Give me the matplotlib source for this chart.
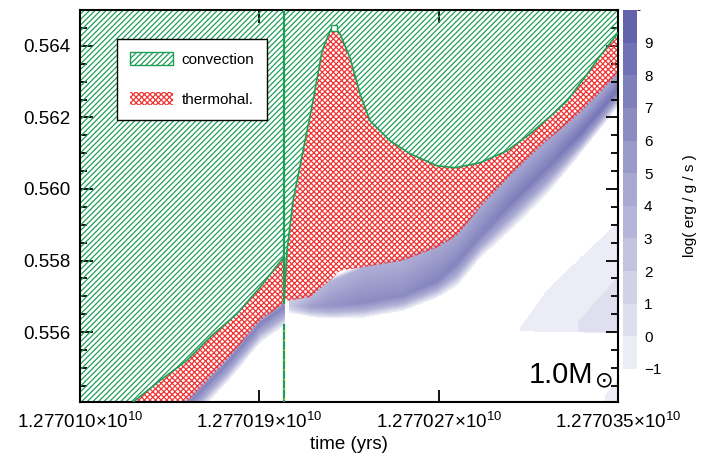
import numpy as np
import matplotlib.pyplot as plt
from matplotlib.colors import ListedColormap, BoundaryNorm, LinearSegmentedColormap, Normalize
from matplotlib.cm import ScalarMappable
from matplotlib.patches import Patch

plt.rcParams['font.family'] = ['Liberation Sans', 'DejaVu Sans']
plt.rcParams['mathtext.fontset'] = 'custom'
plt.rcParams['mathtext.rm'] = 'Liberation Sans'
plt.rcParams['mathtext.it'] = 'Liberation Sans:italic'
plt.rcParams['hatch.linewidth'] = 0.9

# time in years after t0
t0 = 1.2770104e10
t_span = 250000.0
xtick_labels = ['1.277010×10$^{10}$', '1.277019×10$^{10}$',
                '1.277027×10$^{10}$', '1.277035×10$^{10}$']
m_lo, m_hi = 0.55405, 0.56500

# lower edge of the convective zone, before and after the flash
conv_left_t = [0, 9294, 24628, 37174, 49581, 60408, 72815, 83642, 94795]
conv_left_m = [0.55278, 0.553258, 0.554047, 0.554653, 0.555211, 0.555861,
               0.556513, 0.557255, 0.558110]
conv_right_t = [94795, 96189, 98977, 103624, 108270, 112453, 116170, 117796,
                120817, 125464, 130110, 134757, 144051, 153344, 165891, 174255,
                185872, 198418, 209106, 219794, 226299, 234663, 241634, 250000]
conv_right_m = [0.556884, 0.558279, 0.559674, 0.561068, 0.562463, 0.563858,
                0.564416, 0.564555, 0.564332, 0.563663, 0.562658, 0.561905,
                0.561347, 0.560985, 0.560650, 0.560594, 0.560734, 0.561068,
                0.561543, 0.562100, 0.562463, 0.563132, 0.563718, 0.564360]

# lower edge of the thermohaline zone
thermo_left_t = [39498, 49581, 68169, 83642, 94795]
thermo_left_m = [0.553425, 0.554047, 0.555211, 0.556326, 0.556801]
thermo_right_t = [97118, 106876, 116170, 120817, 131504, 150092, 165891,
                  175184, 185872, 201206, 217006, 232340, 241634, 250000]
thermo_right_m = [0.556884, 0.556976, 0.557442, 0.557721, 0.557813, 0.558000,
                  0.558363, 0.558697, 0.559478, 0.560455, 0.561347, 0.562128,
                  0.562686, 0.563244]

# burning shell: top / ridge / bottom edge and log eps at ridge and top
shell_left_t = [32528, 49581, 68169, 83642, 94795]
shell_left_top = [0.552979, 0.554047, 0.555211, 0.556326, 0.556801]
shell_left_ridge = [0.552896, 0.553964, 0.555127, 0.556243, 0.556717]
shell_left_bot = [0.552365, 0.553434, 0.554597, 0.555713, 0.556187]
shell_left_peak = [7, 7, 7, 7, 7]
shell_left_edge = [4, 4, 4, 4, 4]

shell_right_t = [97118, 106876, 116170, 131504, 150092, 165891, 175184,
                 185872, 201206, 217006, 232340, 241634, 250000]
shell_right_top = [0.556884, 0.556996, 0.557386, 0.557777, 0.558000, 0.558363,
                   0.558697, 0.559478, 0.560455, 0.561347, 0.562128, 0.562686,
                   0.563244]
shell_right_ridge = [0.556745, 0.556717, 0.556745, 0.556828, 0.557024, 0.557442,
                     0.557944, 0.558697, 0.559674, 0.560594, 0.561543, 0.562184,
                     0.562798]
shell_right_bot = [0.556550, 0.556438, 0.556382, 0.556410, 0.556605, 0.556968,
                   0.557303, 0.558084, 0.558921, 0.559869, 0.560985, 0.561682,
                   0.562324]
shell_right_peak = [2, 5, 6, 6.5, 6.5, 7, 7, 7, 7.5, 7.5, 8, 8, 8]
shell_right_edge = [1.5, 3, 3.5, 4, 4, 4.5, 4.5, 4.5, 4.5, 4.5, 4.5, 4.5, 4.5]

# weak burning patches at the lower right
glow_t = [204459, 217006, 232340, 250000]
glow_top = [0.556103, 0.557163, 0.558056, 0.559060]
glow_bot = [0.556047, 0.556020, 0.555992, 0.555992]
glow2_t = [231411, 241634, 250000]
glow2_top = [0.556271, 0.556968, 0.557526]
glow2_bot = [0.556020, 0.555992, 0.555992]
corner_t = [243957, 250000]
corner_top = [0.554234, 0.554653]
corner_bot = [0.5535, 0.5535]

flash_t = 94795
flash_gap = [0.556187, 0.556828]
peak_mark = (117796, 0.564499)

green = '#1f9e58'
red = '#f03535'
conv_hatch = '//////'
thermo_hatch = 'xxxxxx'

# ---- energy generation field
tg = np.linspace(0, t_span, 700)
mg = np.linspace(m_lo - 0.0002, m_hi + 0.0002, 500)
field = np.full((mg.size, tg.size), -5.0)
fade = 0.00012


def add_shell(ts, top, ridge, bot, peak, edge):
    for j, t in enumerate(tg):
        if t < ts[0] or t > ts[-1]:
            continue
        a_top = np.interp(t, ts, top)
        a_r = np.interp(t, ts, ridge)
        a_b = np.interp(t, ts, bot)
        pk = np.interp(t, ts, peak)
        ed = np.interp(t, ts, edge)
        mid = 0.5 * (a_b + a_r)
        col = np.interp(mg, [a_b, mid, a_r, a_top, a_top + fade],
                        [-1.2, pk - 0.35 * (pk + 1.2), pk, ed, -1.2],
                        left=-5, right=-5)
        field[:, j] = np.maximum(field[:, j], col)


def add_patch(ts, top, bot, val):
    for j, t in enumerate(tg):
        if t < ts[0] or t > ts[-1]:
            continue
        lo = np.interp(t, ts, bot)
        hi = np.interp(t, ts, top)
        inside = (mg >= lo) & (mg <= hi)
        field[inside, j] = np.maximum(field[inside, j], val)


add_shell(shell_left_t, shell_left_top, shell_left_ridge, shell_left_bot,
          shell_left_peak, shell_left_edge)
add_shell(shell_right_t, shell_right_top, shell_right_ridge, shell_right_bot,
          shell_right_peak, shell_right_edge)
add_patch(glow_t, glow_top, glow_bot, -0.5)
add_patch(glow2_t, glow2_top, glow2_bot, 0.5)
add_patch(corner_t, corner_top, corner_bot, -0.5)

levels = np.arange(-1, 11)
cols = np.linspace([0.925, 0.925, 0.965], [0.39, 0.39, 0.68], 11)
cmap = ListedColormap(cols)
norm = BoundaryNorm(levels, cmap.N)
# smooth version of the same palette for the field itself
pos = [0] + [(k + 0.5) / 11 for k in range(11)] + [1]
smooth = LinearSegmentedColormap.from_list(
    'eps', list(zip(pos, [cols[0]] + list(cols) + [cols[-1]])))
fine_levels = np.arange(-1, 10.01, 0.2)

fig = plt.figure(figsize=(7.07, 4.59), dpi=100)
ax = fig.add_axes([0.1132, 0.1242, 0.7610, 0.8540])
ax.contourf(tg, mg, field, levels=fine_levels, cmap=smooth,
            norm=Normalize(-1, 10), zorder=1)

top = 0.566
# convective regions
ax.fill(conv_left_t + [flash_t, 0], conv_left_m + [top, top],
        facecolor='none', edgecolor=green, hatch=conv_hatch, lw=0, zorder=2)
ax.fill(conv_right_t + [t_span, flash_t], conv_right_m + [top, top],
        facecolor='none', edgecolor=green, hatch=conv_hatch, lw=0, zorder=2)
# thermohaline regions
ax.fill(thermo_left_t + conv_left_t[::-1], thermo_left_m + conv_left_m[::-1],
        facecolor='none', edgecolor=red, hatch=thermo_hatch, lw=0, zorder=2)
ax.fill(thermo_right_t[::-1] + conv_right_t, thermo_right_m[::-1] + conv_right_m,
        facecolor='none', edgecolor=red, hatch=thermo_hatch, lw=0, zorder=2)

ax.plot(conv_left_t, conv_left_m, color=green, lw=1.2, zorder=3)
ax.plot(conv_right_t, conv_right_m, color=green, lw=1.2, zorder=3)
ax.plot(*peak_mark, marker='s', ms=5, mfc='white', mec=green, mew=1, zorder=4)

# convective spike at the flash
ax.plot([flash_t, flash_t], [flash_gap[1], top], color=green, lw=1.6, zorder=4)
ax.plot([flash_t, flash_t], [m_lo - 0.001, flash_gap[0]], color=green, lw=1.6,
        zorder=4)
ax.plot([flash_t, flash_t], [m_lo - 0.001, flash_gap[0]], color='#e8e020',
        lw=1.0, ls=(0, (1, 6)), zorder=4)

ax.set_xlim(0, t_span)
ax.set_ylim(m_lo, m_hi)
ax.set_xticks(np.linspace(0, t_span, 4))
ax.set_xticklabels(xtick_labels)
ax.set_yticks([0.556, 0.558, 0.560, 0.562, 0.564])
ax.set_yticklabels(['0.556', '0.558', '0.560', '0.562', '0.564'])
ax.set_yticks(np.arange(0.5545, 0.5650, 0.0005), minor=True)
ax.tick_params(direction='in', top=True, right=True, length=9, width=1.3,
               labelsize=13.5, pad=7)
ax.tick_params(which='minor', direction='in', left=True, right=True,
               length=5, width=1.3)
for s in ax.spines.values():
    s.set_linewidth(1.5)
ax.set_xlabel('time (yrs)', fontsize=13.5, labelpad=3)

ax.text(0.9535, 0.048, '1.0M', transform=ax.transAxes,
        ha='right', va='baseline', fontsize=21, zorder=5)
ax.text(0.974, 0.054, '\u2299', transform=ax.transAxes, family='DejaVu Sans',
        ha='center', va='center', fontsize=16, zorder=5)

handles = [Patch(facecolor='white', edgecolor=green, hatch=conv_hatch, lw=1.0),
           Patch(facecolor='white', edgecolor=red, hatch=thermo_hatch, lw=0)]
leg = ax.legend(handles, ['convection', 'thermohal.'], loc='upper left',
                bbox_to_anchor=(0.069, 0.926), borderaxespad=0, fontsize=11,
                handlelength=2.8, handleheight=0.95, handletextpad=0.55,
                borderpad=0.85, labelspacing=1.65, fancybox=False,
                framealpha=1, edgecolor='black')
leg.get_frame().set_linewidth(1.0)
leg.set_zorder(6)

# colour bar
cax = fig.add_axes([0.8812, 0.1961, 0.0198, 0.7821])
cb = fig.colorbar(ScalarMappable(norm=norm, cmap=cmap), cax=cax,
                  ticks=np.arange(-1, 10))
cb.outline.set_visible(False)
cax.tick_params(length=0, labelsize=11, pad=5)
fig.text(0.976, 0.552, 'log( erg / g / s )', rotation=90, fontsize=11,
         ha='center', va='center')

fig.savefig('out.png', dpi=100)
